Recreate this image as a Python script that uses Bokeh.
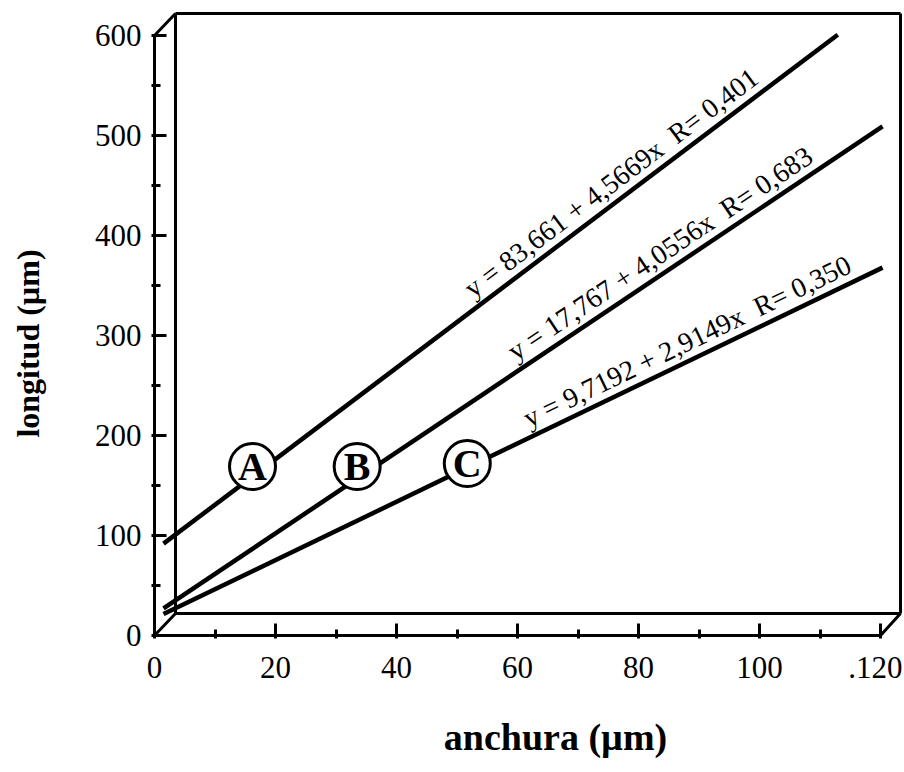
import math
from bokeh.plotting import figure
from bokeh.models import FixedTicker, Range1d
from bokeh.core.properties import value
from bokeh.embed import file_html
from bokeh.resources import INLINE

# ---------------- data ----------------
series = ["A", "B", "C"]
intercepts = [83.661, 17.767, 9.7192]
slopes = [4.5669, 4.0556, 2.9149]
r_values = ["0,401", "0,683", "0,350"]
line_x_start = [-2.15, -2.15, -2.15]
line_x_end = [109.3, 116.7, 116.7]
eq_x_start = [49.9, 56.9, 58.9]
badge_x = [16.2, 33.5, 51.7]
badge_y = [169, 169, 172]

x_ticks = [0, 20, 40, 60, 80, 100, 120]
x_minor = [10, 30, 50, 70, 90, 110]
x_tick_labels = ["0", "20", "40", "60", "80", "100", ".120"]
y_ticks = [0, 100, 200, 300, 400, 500, 600]
y_minor = [50, 150, 250, 350, 450, 550]
y_tick_labels = ["0", "100", "200", "300", "400", "500", "600"]

x_title = "anchura (µm)"
y_title = "longitud (µm)"

# ---------------- layout ----------------
W, H = 902, 770
SX, SY = 6.05, 1.0          # px per data unit
OX, OY = 154, 635           # canvas position of data origin (front face)
PAD = 3
BL = OX - PAD
FB = OY + PAD
x_start = -PAD / SX
x_end = x_start + (W - BL) / SX
y_start = -PAD / SY
y_end = y_start + FB / SY

SERIF = "Liberation Serif"
NB = "\u00a0"

p = figure(width=W, height=H, output_backend="svg", toolbar_location=None,
           x_range=Range1d(x_start, x_end), y_range=Range1d(y_start, y_end),
           min_border_left=BL, min_border_right=0, min_border_top=0,
           min_border_bottom=H - FB, title=None)
p.outline_line_color = None
p.grid.visible = False
p.background_fill_color = "white"
p.border_fill_color = "white"

for ax, ticks, minor, labels in ((p.xaxis[0], x_ticks, x_minor, x_tick_labels),
                                 (p.yaxis[0], y_ticks, y_minor, y_tick_labels)):
    ax.ticker = FixedTicker(ticks=ticks, minor_ticks=minor)
    ax.axis_line_color = None
    ax.major_tick_in = 15
    ax.major_tick_out = 0
    ax.minor_tick_in = 9
    ax.minor_tick_out = 0
    ax.major_tick_line_width = 3
    ax.minor_tick_line_width = 3
    ax.major_tick_line_color = "black"
    ax.minor_tick_line_color = "black"
    ax.major_label_text_font = SERIF
    ax.major_label_text_font_size = "31px"
    ax.major_label_text_color = "black"
    ax.major_label_overrides = {t: l for t, l in zip(ticks, labels)}
    ax.axis_label_text_font = SERIF
    ax.axis_label_text_font_style = "bold"
    ax.axis_label_text_color = "black"

p.xaxis[0].major_label_standoff = 18
p.yaxis[0].major_label_standoff = 10

# axis titles (padding spaces shift them off the frame centre as in the original)
p.xaxis[0].axis_label = NB * 6 + x_title
p.xaxis[0].axis_label_text_font_size = "38px"
p.xaxis[0].axis_label_standoff = 35
p.yaxis[0].axis_label = y_title + NB * 6
p.yaxis[0].axis_label_text_font_size = "32px"
p.yaxis[0].axis_label_standoff = 46

# ---------------- box (pseudo 3-D) ----------------
dxb, dyb = 21 / SX, 22 / SY
xr = min(x_ticks[-1] + dxb, x_end - 2 / SX)
top = y_ticks[-1]
x0s = [0, 0, dxb, dxb, xr, xr, 0, 0, x_ticks[-1]]
y0s = [0, 0, dyb, top + dyb, top + dyb, dyb, 0, top, 0]
x1s = [0, x_ticks[-1], dxb, xr, xr, dxb, dxb, dxb, xr]
y1s = [top, 0, top + dyb, top + dyb, dyb, dyb, dyb, top + dyb, dyb]
p.segment(x0s, y0s, x1s, y1s, line_color="black", line_width=3)

# ---------------- regression lines ----------------
LDX, LDY = 22 / SX, 18 / SY
for b, m, xs, xe in zip(intercepts, slopes, line_x_start, line_x_end):
    p.line([xs + LDX, xe + LDX], [b + m * xs + LDY, b + m * xe + LDY],
           line_color="black", line_width=4.5)

# equations along the lines
for b, m, r, xs in zip(intercepts, slopes, r_values, eq_x_start):
    th = math.atan(m * SY / SX)
    off = 3
    tx = xs + LDX - math.sin(th) * off / SX
    ty = b + m * xs + LDY + math.cos(th) * off / SY
    txt = f"y = {str(b).replace('.', ',')} + {str(m).replace('.', ',')}x {NB}R= {r}"
    p.text([tx], [ty], text=[txt], angle=th, text_font=value(SERIF),
           text_font_size=value("28px"), text_align="left", text_baseline="bottom",
           text_color="black")

# circled series letters
p.scatter(badge_x, badge_y, marker="circle", size=46, fill_color="white",
          line_color="black", line_width=3)
p.text(badge_x, badge_y, text=series, text_font=value(SERIF), text_font_style="bold",
       text_font_size=value("40px"), text_align="center", text_baseline="middle",
       text_color="black")

open("out.html", "w").write(file_html(p, INLINE))
